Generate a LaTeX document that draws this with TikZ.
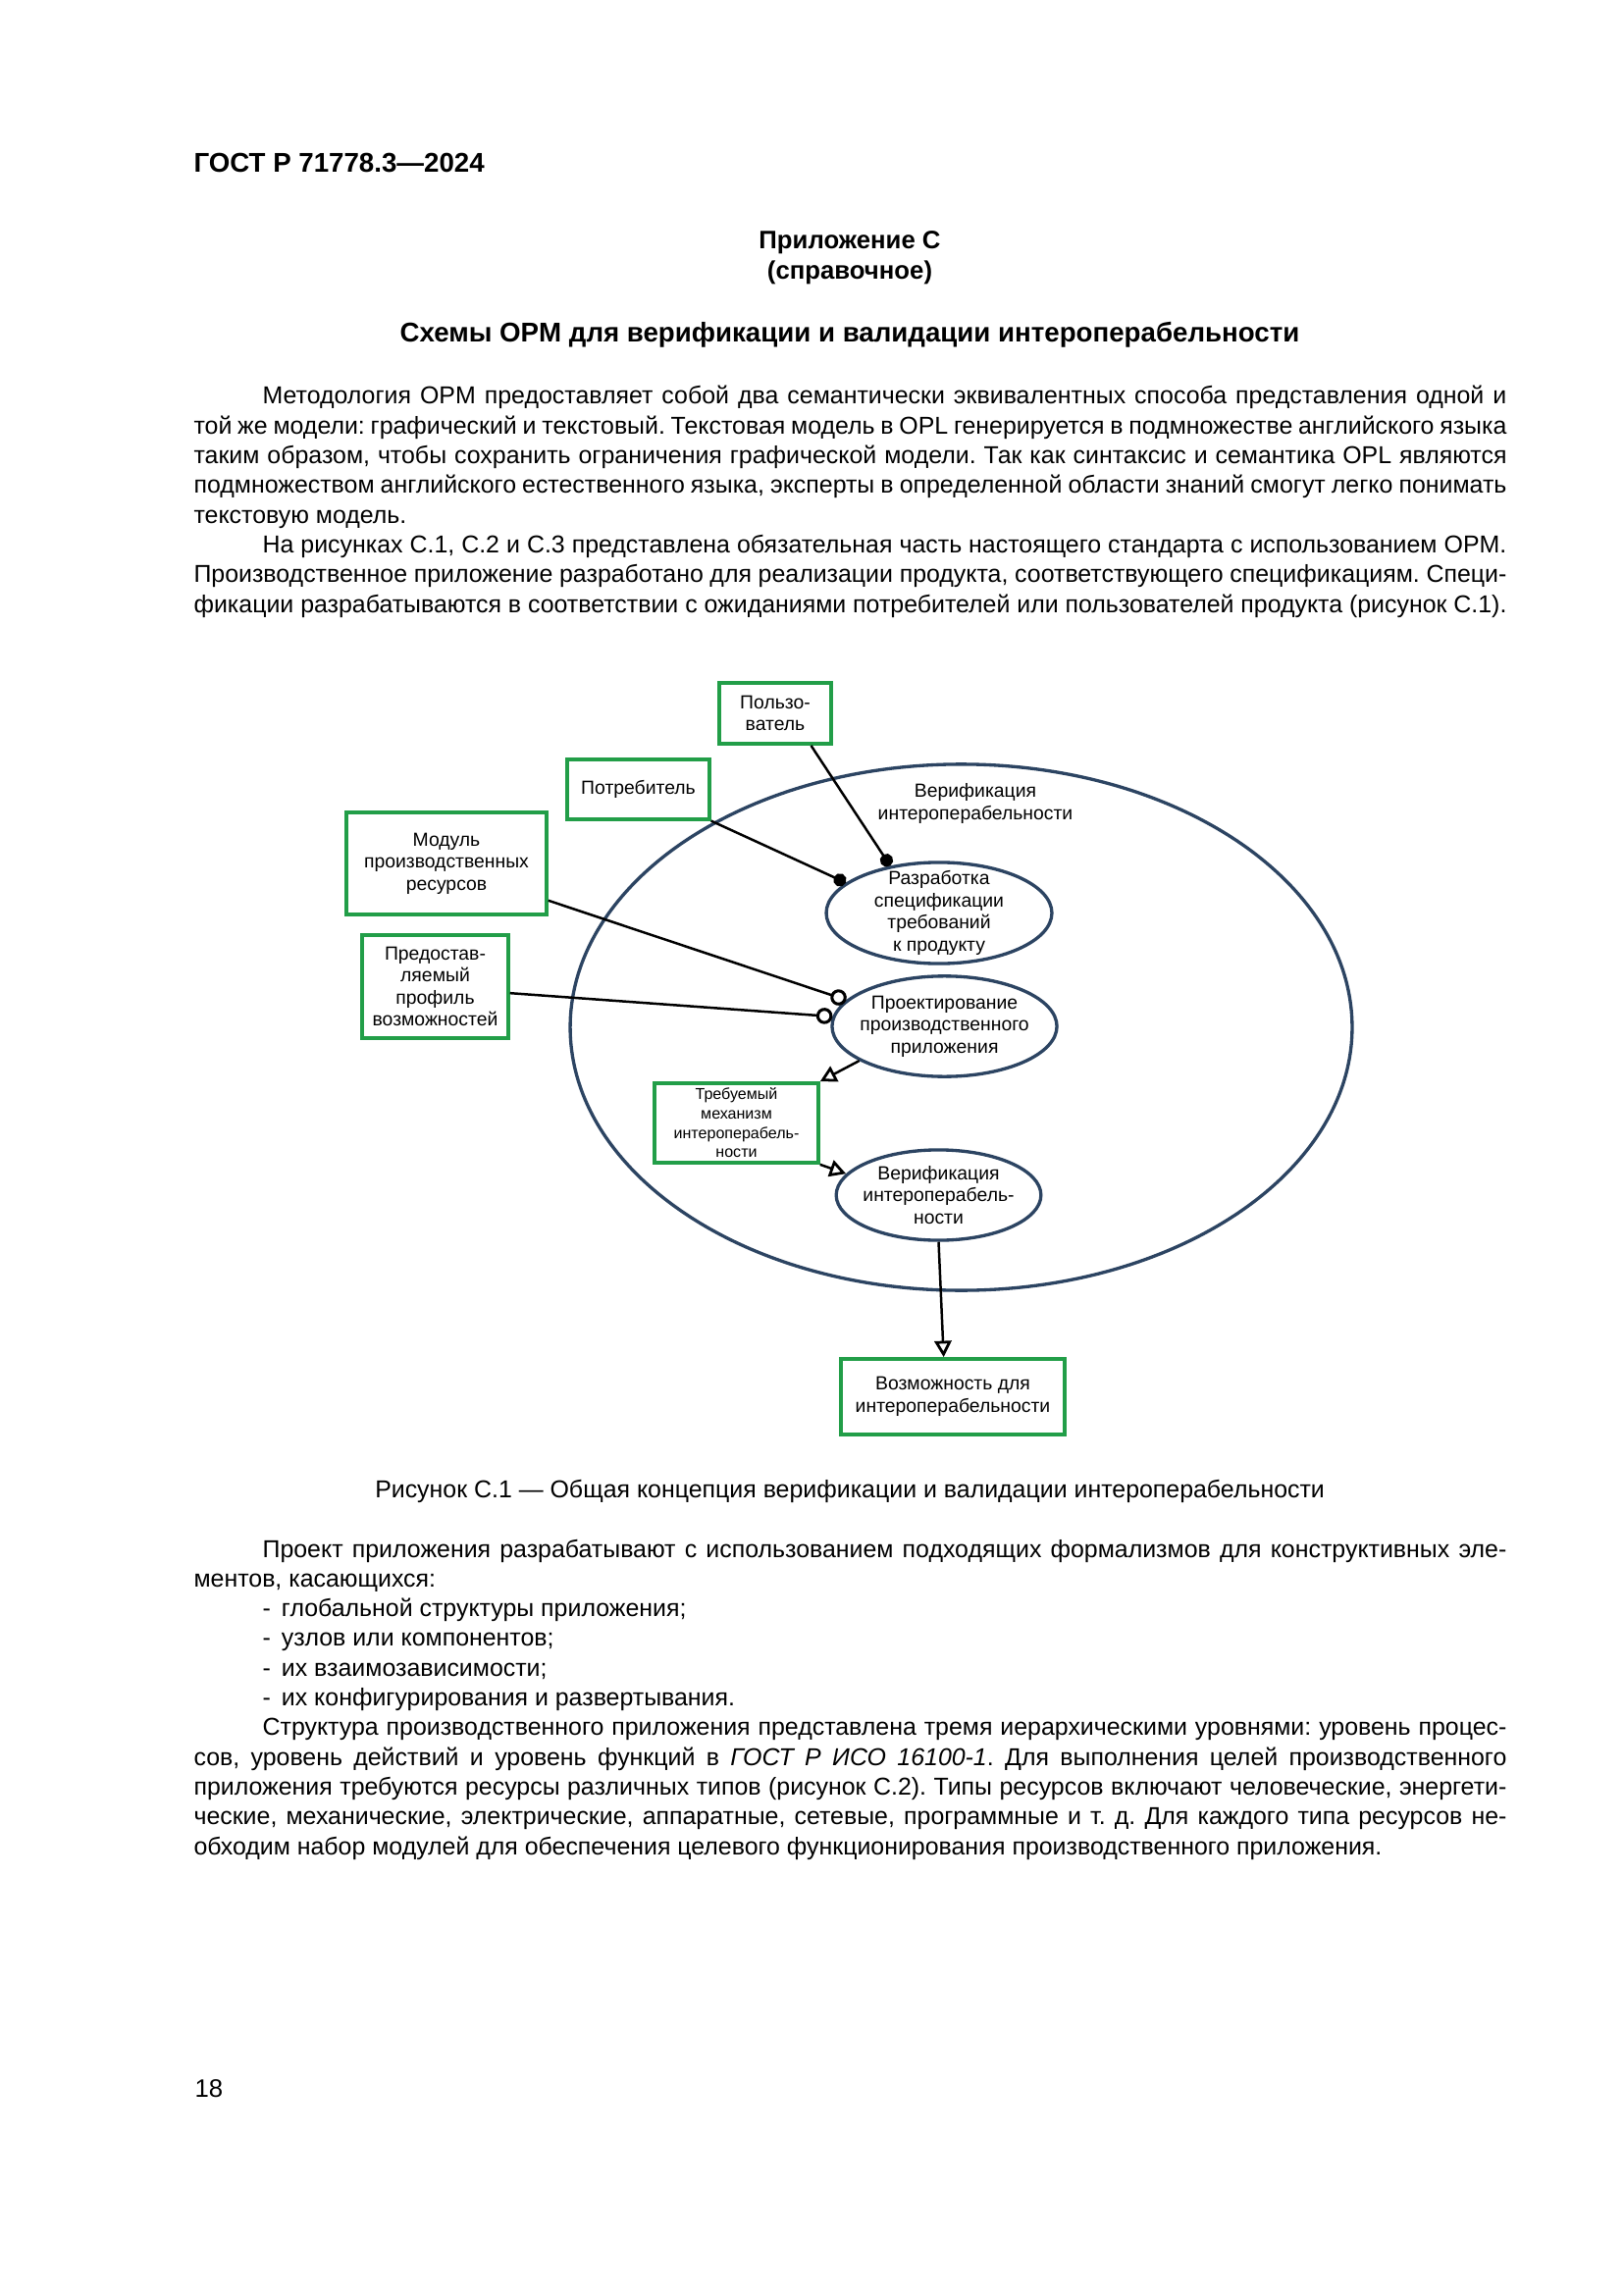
\documentclass[tikz,border=0pt]{standalone}
\usepackage{fontspec}
\setmainfont{Liberation Sans}
\usetikzlibrary{arrows.meta,shapes.geometric}
\frenchspacing

\definecolor{opmgreen}{RGB}{34,158,72}
\definecolor{opmblue}{RGB}{44,68,98}

\begin{document}
\begin{tikzpicture}[x=0.127mm,y=-0.127mm,
    obj/.style={draw=opmgreen, line width=1.3pt, rectangle, inner sep=0pt,
      align=center, font=\fontsize{7}{8.1}\selectfont},
    proc/.style={draw=opmblue, line width=1.2pt, ellipse, inner sep=0pt},
    txt/.style={align=center, inner sep=0pt, font=\fontsize{7}{8.1}\selectfont},
    link/.style={line width=0.9pt},
    agent/.style={link, -{Circle[length=1.7mm]}},
    instr/.style={link, -{Circle[open, length=2.1mm, line width=1.1pt]}},
    effect/.style={link, -{Triangle[open, length=2.1mm, width=2.2mm, line width=1pt]}},
    body/.style={anchor=base west, inner sep=0pt, text width=169.9mm,
      align=justify, font=\fontsize{9}{10.95}\selectfont},
    head/.style={anchor=base, inner sep=0pt, font=\bfseries\fontsize{9.3}{11}\selectfont}]

      % Page
      \path[fill=white, use as bounding box] (0,0) rectangle (1654,2339);

      % Header and titles
      \node[anchor=base west, inner sep=0pt, font=\bfseries\fontsize{10}{12}\selectfont]
        (docId) at (197,176) {ГОСТ Р 71778.3—2024};
      \node[head] (annexTitle) at (866,254) {Приложение С};
      \node[head] (annexKind) at (866,285) {(справочное)};
      \node[head, font=\bfseries\fontsize{10}{12}\selectfont] (annexHeading) at (866,349)
        {Схемы OPM для верификации и валидации интероперабельности};

      % Text above the figure
      \node[body] (textTop) at (197,412) {\setlength{\parindent}{8.9mm}\indent
        Методология OPM предоставляет собой два семантически эквивалентных способа представления одной и\linebreak
        той же модели: графический и текстовый. Текстовая модель в OPL генерируется в подмножестве английского языка\linebreak
        таким образом, чтобы сохранить ограничения графической модели. Так как синтаксис и семантика OPL являются\linebreak
        подмножеством английского естественного языка, эксперты в определенной области знаний смогут легко понимать\linebreak
        текстовую модель.\par
        На рисунках С.1, С.2 и С.3 представлена обязательная часть настоящего стандарта с использованием OPM.\linebreak
        Производственное приложение разработано для реализации продукта, соответствующего спецификациям. Специ-\linebreak
        фикации разрабатываются в соответствии с ожиданиями потребителей или пользователей продукта (рисунок С.1).};

      % Processes
      \node[proc, minimum width=101.2mm, minimum height=68.1mm] (system) at (979.5,1047) {};
      \node[txt] (systemLabel) at (994,819) {Верификация\\интероперабельности};
      \node[proc, minimum width=29.2mm, minimum height=13.1mm,
        label={[txt]center:{Разработка\\спецификации\\требований\\к продукту}}] (spec) at (957,930.5) {};
      \node[proc, minimum width=29.1mm, minimum height=13mm,
        label={[txt]center:{Проектирование\\производственного\\приложения}}] (design) at (962.5,1046) {};
      \node[proc, minimum width=26.5mm, minimum height=11.7mm,
        label={[txt]center:{Верификация\\интероперабель-\\ности}}] (verif) at (956.5,1218) {};

      % Objects
      \node[obj, minimum width=14.5mm, minimum height=7.9mm] (user) at (790,727) {Пользо-\\ватель};
      \node[obj, minimum width=18.4mm, minimum height=7.7mm] (consumer) at (650.5,804.5) {Потребитель};
      \node[obj, minimum width=25.9mm, minimum height=13.2mm] (module) at (455,880)
        {Модуль\\производственных\\ресурсов};
      \node[obj, minimum width=18.9mm, minimum height=13.3mm] (profile) at (443.5,1005.5)
        {Предостав-\\ляемый\\профиль\\возможностей};
      \node[obj, minimum width=21.2mm, minimum height=10.3mm, font=\fontsize{5.8}{7.1}\selectfont]
        (mechanism) at (750.5,1144.5) {Требуемый\\механизм\\интероперабель-\\ности};
      \node[obj, minimum width=29mm, minimum height=9.8mm] (capability) at (971,1423.5)
        {Возможность для\\интероперабельности};

      % Links
      \draw[agent] (user.-42) -- (spec.136);
      \draw[agent] (consumer.south east) -- (spec.162);
      \draw[instr] (module.-20) -- (design.165);
      \draw[instr] (profile.-5) -- (design.175);
      \draw[effect] (design.202) -- (mechanism.north east);
      \draw[effect] (mechanism.south east) -- (verif.167);
      \draw[effect] (verif.south) -- (capability.103);

      % Caption
      \node[anchor=base, inner sep=0pt, font=\fontsize{9}{11}\selectfont] (caption) at (866,1526)
        {Рисунок С.1 — Общая концепция верификации и валидации интероперабельности};

      % Text below the figure
      \node[body] (textBottom) at (197,1587) {\setlength{\parindent}{8.9mm}\indent
        Проект приложения разрабатывают с использованием подходящих формализмов для конструктивных эле-\linebreak
        ментов, касающихся:\par
        -\hspace{1.4mm}глобальной структуры приложения;\par
        -\hspace{1.4mm}узлов или компонентов;\par
        -\hspace{1.4mm}их взаимозависимости;\par
        -\hspace{1.4mm}их конфигурирования и развертывания.\par
        Структура производственного приложения представлена тремя иерархическими уровнями: уровень процес-\linebreak
        сов, уровень действий и уровень функций в \textit{ГОСТ Р ИСО 16100-1}. Для выполнения целей производственного\linebreak
        приложения требуются ресурсы различных типов (рисунок С.2). Типы ресурсов включают человеческие, энергети-\linebreak
        ческие, механические, электрические, аппаратные, сетевые, программные и т.~д. Для каждого типа ресурсов не-\linebreak
        обходим набор модулей для обеспечения целевого функционирования производственного приложения.};

      % Page number
      \node[anchor=base west, inner sep=0pt, font=\fontsize{9.3}{11}\selectfont] (pageNo) at (198,2137) {18};
    \end{tikzpicture}
\end{document}
